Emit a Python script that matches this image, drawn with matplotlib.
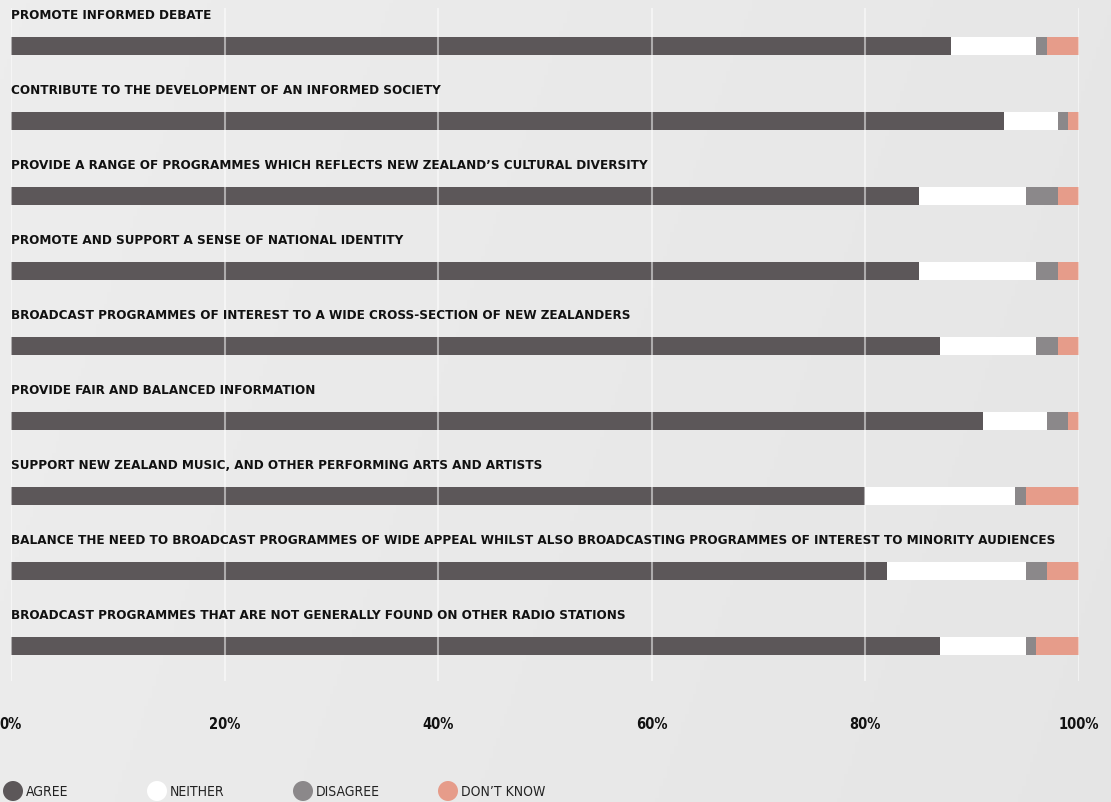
import matplotlib
matplotlib.use("Agg")
import matplotlib.pyplot as plt
import numpy as np
from matplotlib import font_manager

categories = [
    "PROMOTE INFORMED DEBATE",
    "CONTRIBUTE TO THE DEVELOPMENT OF AN INFORMED SOCIETY",
    "PROVIDE A RANGE OF PROGRAMMES WHICH REFLECTS NEW ZEALAND\u2019S CULTURAL DIVERSITY",
    "PROMOTE AND SUPPORT A SENSE OF NATIONAL IDENTITY",
    "BROADCAST PROGRAMMES OF INTEREST TO A WIDE CROSS-SECTION OF NEW ZEALANDERS",
    "PROVIDE FAIR AND BALANCED INFORMATION",
    "SUPPORT NEW ZEALAND MUSIC, AND OTHER PERFORMING ARTS AND ARTISTS",
    "BALANCE THE NEED TO BROADCAST PROGRAMMES OF WIDE APPEAL WHILST ALSO BROADCASTING PROGRAMMES OF INTEREST TO MINORITY AUDIENCES",
    "BROADCAST PROGRAMMES THAT ARE NOT GENERALLY FOUND ON OTHER RADIO STATIONS",
]
agree = [88, 93, 85, 85, 87, 91, 80, 82, 87]
neither = [8, 5, 10, 11, 9, 6, 14, 13, 8]
disagree = [1, 1, 3, 2, 2, 2, 1, 2, 1]
dont_know = [3, 1, 2, 2, 2, 1, 5, 3, 4]
series_names = ["AGREE", "NEITHER", "DISAGREE", "DON\u2019T KNOW"]
series_colors = ["#5c5759", "#ffffff", "#8b888a", "#e69c8a"]
xticks = [0, 20, 40, 60, 80, 100]
xtick_labels = ["0%", "20%", "40%", "60%", "80%", "100%"]

# font choice: prefer a narrow/condensed family if installed
avail = {f.name for f in font_manager.fontManager.ttflist}
cond = [f for f in font_manager.fontManager.ttflist
        if f.name == "DejaVu Sans" and "ondensed" in f.fname]
if "Liberation Sans Narrow" in avail:
    fam, stretch = "Liberation Sans Narrow", "normal"
elif cond:
    fam, stretch = "DejaVu Sans", "condensed"
else:
    fam, stretch = "Roboto", "normal"

W, H = 1111, 803
fig = plt.figure(figsize=(W / 100, H / 100), dpi=100)

# background gradient
bg = fig.add_axes([0, 0, 1, 1], zorder=-10)
gx = np.linspace(0, 1, 300)
gy = np.linspace(0, 1, 200)
GX, GY = np.meshgrid(gx, gy)
val = 0.93 - 0.03 * (0.8 * GX + 0.2 * (1 - GY))
img = np.dstack([val, val, val])
bg.imshow(img, aspect="auto", extent=[0, 1, 0, 1], origin="lower")
bg.axis("off")

x0, x1 = 11, 1079
ax_bottom = 700
ax = fig.add_axes([x0 / W, (H - ax_bottom) / H, (x1 - x0) / W, ax_bottom / H])
ax.set_facecolor("none")
ax.set_xlim(0, 100)
ax.set_ylim(ax_bottom, 0)
for s in ax.spines.values():
    s.set_visible(False)

ys = [46.5 + 75 * i for i in range(len(categories))]
left = np.zeros(len(categories))
for vals, c, name in zip([agree, neither, disagree, dont_know], series_colors, series_names):
    ax.barh(ys, vals, left=left, height=18, color=c, edgecolor="none", zorder=2, label=name)
    left += np.array(vals)

# gridlines over bars
ax.vlines(xticks, 9, 682, colors="white", linewidth=1.5, alpha=0.5, zorder=3)

# category labels above bars
texts = []
for y, cat in zip(ys, categories):
    t = ax.text(0, y - 31, cat, ha="left", va="center", fontsize=12,
                family=fam, fontstretch=stretch, fontweight="bold", color="#111111", zorder=4)
    texts.append(t)
fig.canvas.draw()
r = fig.canvas.get_renderer()
wmax = max(t.get_window_extent(r).width for t in texts)
fs = min(12.5, 12 * 1044 / wmax)
for t in texts:
    t.set_fontsize(fs)

# x tick labels
ax.set_xticks(xticks)
ax.set_xticklabels(xtick_labels)
ax.tick_params(axis="x", length=0, pad=12, labelsize=10.5)
for lab in ax.get_xticklabels():
    lab.set_fontweight("bold")
    lab.set_family(fam)
    lab.set_fontstretch(stretch)
    lab.set_color("#111111")
ax.set_yticks([])

# legend
leg_px = [13, 157, 303, 448]
for px, c, name in zip(leg_px, series_colors, series_names):
    fx = px / W
    fy = (H - 792) / H
    fig.patches.append(matplotlib.patches.Ellipse((fx, fy), 20 / W, 20 / H, transform=fig.transFigure,
                                                  facecolor=c, edgecolor="none", figure=fig))
    fig.text(fx + 13 / W, fy, name, ha="left", va="center", fontsize=10,
             family=fam, fontstretch=stretch, color="#222222")

fig.savefig("out.png", dpi=100)
